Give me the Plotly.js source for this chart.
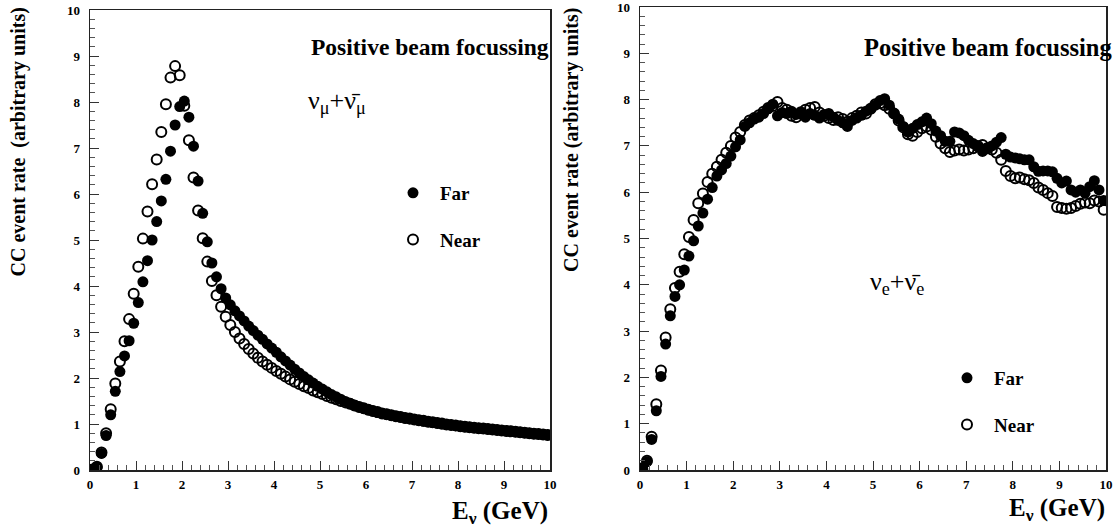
<!DOCTYPE html>
<html>
<head>
<meta charset="utf-8">
<script src="https://cdn.plot.ly/plotly-3.0.1.min.js"></script>
<style>html,body{margin:0;padding:0;background:#fff;}#chart{width:1118px;height:527px;}</style>
</head>
<body>
<div id="chart"></div>
<script>
// Bin centres (GeV)
const energy = [0.05,0.15,0.25,0.35,0.45,0.55,0.65,0.75,0.85,0.95,
1.05,1.15,1.25,1.35,1.45,1.55,1.65,1.75,1.85,1.95,
2.05,2.15,2.25,2.35,2.45,2.55,2.65,2.75,2.85,2.95,
3.05,3.15,3.25,3.35,3.45,3.55,3.65,3.75,3.85,3.95,
4.05,4.15,4.25,4.35,4.45,4.55,4.65,4.75,4.85,4.95,
5.05,5.15,5.25,5.35,5.45,5.55,5.65,5.75,5.85,5.95,
6.05,6.15,6.25,6.35,6.45,6.55,6.65,6.75,6.85,6.95,
7.05,7.15,7.25,7.35,7.45,7.55,7.65,7.75,7.85,7.95,
8.05,8.15,8.25,8.35,8.45,8.55,8.65,8.75,8.85,8.95,
9.05,9.15,9.25,9.35,9.45,9.55,9.65,9.75,9.85,9.95];

// nu_mu + nu_mu-bar, Far detector
const numuFar = [0.01,0.06,0.36,0.75,1.20,1.71,2.14,2.48,2.81,3.19,
3.64,4.09,4.55,5.00,5.40,5.85,6.32,6.93,7.50,7.90,
8.02,7.67,7.04,6.28,5.58,4.96,4.50,4.20,3.94,3.74,
3.59,3.46,3.35,3.24,3.13,3.03,2.93,2.84,2.74,2.65,
2.56,2.46,2.37,2.28,2.19,2.11,2.03,1.96,1.89,1.82,
1.76,1.70,1.64,1.59,1.54,1.49,1.45,1.41,1.37,1.34,
1.31,1.28,1.25,1.23,1.21,1.19,1.17,1.15,1.13,1.11,
1.10,1.08,1.06,1.05,1.03,1.02,1.00,0.99,0.98,0.96,
0.95,0.94,0.93,0.92,0.91,0.90,0.89,0.88,0.87,0.86,
0.85,0.84,0.83,0.82,0.81,0.80,0.79,0.78,0.77,0.76];

// nu_mu + nu_mu-bar, Near detector
const numuNear = [0.01,0.07,0.38,0.80,1.32,1.88,2.36,2.80,3.28,3.83,
4.42,5.03,5.62,6.21,6.75,7.35,7.95,8.53,8.78,8.58,
7.92,7.17,6.36,5.64,5.04,4.53,4.11,3.80,3.55,3.33,
3.15,3.00,2.86,2.74,2.63,2.53,2.44,2.36,2.29,2.22,
2.15,2.09,2.03,1.97,1.92,1.87,1.82,1.78,1.73,1.69,
1.65,1.61,1.57,1.54,1.50,1.47,1.44,1.40,1.37,1.34,
1.31,1.28,1.26,1.23,1.21,1.19,1.17,1.15,1.13,1.12,
1.10,1.08,1.07,1.05,1.04,1.02,1.01,0.99,0.98,0.97,
0.95,0.94,0.93,0.92,0.91,0.90,0.89,0.88,0.87,0.86,
0.85,0.84,0.83,0.82,0.81,0.80,0.79,0.78,0.77,0.76];

// nu_e + nu_e-bar, Far detector
const nueFar = [0.05,0.18,0.66,1.28,2.02,2.72,3.33,3.75,4.00,4.32,
4.62,4.95,5.27,5.55,5.85,6.10,6.35,6.48,6.62,6.78,
6.98,7.13,7.42,7.50,7.58,7.62,7.70,7.80,7.90,7.65,
7.72,7.70,7.75,7.68,7.74,7.62,7.70,7.66,7.60,7.68,
7.70,7.62,7.55,7.50,7.42,7.55,7.60,7.66,7.75,7.80,
7.88,7.98,8.02,7.88,7.70,7.58,7.42,7.30,7.38,7.46,
7.52,7.60,7.48,7.32,7.22,7.10,7.10,7.30,7.28,7.22,
7.12,7.05,6.98,6.88,6.95,7.00,7.08,7.18,6.82,6.76,
6.74,6.72,6.70,6.70,6.55,6.45,6.46,6.46,6.44,6.30,
6.20,6.24,6.05,6.00,6.05,5.98,6.12,6.25,6.05,5.82];

// nu_e + nu_e-bar, Near detector
const nueNear = [0.02,0.20,0.72,1.42,2.15,2.86,3.47,3.93,4.28,4.66,
5.03,5.40,5.76,5.97,6.22,6.40,6.55,6.70,6.85,7.00,
7.18,7.30,7.45,7.55,7.60,7.66,7.74,7.82,7.86,7.95,
7.82,7.78,7.65,7.62,7.70,7.78,7.82,7.84,7.72,7.65,
7.60,7.56,7.62,7.58,7.52,7.60,7.65,7.72,7.70,7.80,
7.90,7.92,7.88,7.80,7.70,7.55,7.40,7.25,7.22,7.30,
7.38,7.42,7.35,7.20,7.05,6.95,6.87,6.90,6.92,6.90,
6.92,6.95,7.00,7.02,6.95,6.92,6.85,6.70,6.46,6.35,
6.30,6.32,6.28,6.26,6.20,6.10,6.05,5.98,5.92,5.68,
5.66,5.64,5.66,5.70,5.75,5.78,5.76,5.82,5.80,5.62];

const seriesNames = ["Far", "Near"];
const xTitle = "E<sub>ν</sub> (GeV)";
const yTitleLeft = "CC event rate \u00a0(arbitrary units)";
const yTitleRight = "CC event rate (arbitrary units)";
const panelTitle = "Positive beam focussing";
const labelLeft = "ν<sub>μ</sub>+ν\u0304<sub>μ</sub>";
const labelRight = "ν<sub>e</sub>+ν\u0304<sub>e</sub>";

const SERIF = "Liberation Serif, Times New Roman, serif";
const W = 1118, H = 527;
const px = v => v / W;
const py = v => 1 - v / H;

function nearTrace(y, xa, ya, leg) {
  return {x: energy, y: y, xaxis: xa, yaxis: ya, type: 'scatter', mode: 'markers',
    name: seriesNames[1], legend: leg, legendgroup: leg + 'near', legendrank: 2,
    marker: {symbol: 'circle-open', size: 10, color: '#000', line: {width: 2, color: '#000'}},
    hoverinfo: 'x+y'};
}
function farTrace(y, xa, ya, leg) {
  return {x: energy, y: y, xaxis: xa, yaxis: ya, type: 'scatter', mode: 'markers',
    name: seriesNames[0], legend: leg, legendgroup: leg + 'far', legendrank: 1,
    marker: {symbol: 'circle', size: 11, color: '#000'},
    hoverinfo: 'x+y'};
}

const data = [
  nearTrace(numuNear, 'x', 'y', 'legend'),
  farTrace(numuFar, 'x', 'y', 'legend'),
  nearTrace(nueNear, 'x2', 'y2', 'legend2'),
  farTrace(nueFar, 'x2', 'y2', 'legend2')
];

const tickFont = {family: SERIF, size: 13, color: '#000', weight: 'bold'};
function xAxis(domain, anchor) {
  return {domain: domain, anchor: anchor, range: [0, 10.0001], tickmode: 'linear', tick0: 0, dtick: 1,
    ticks: 'inside', ticklen: 9, tickwidth: 1, tickcolor: '#333',
    minor: {dtick: 0.2, ticks: 'inside', ticklen: 5, tickwidth: 1, tickcolor: '#555', showgrid: false},
    showline: true, mirror: true, linecolor: '#222', linewidth: 1.5, ticklabeloverflow: 'allow',
    showgrid: false, zeroline: false, tickfont: tickFont, ticklabelstandoff: 2, fixedrange: true};
}
function yAxis(domain, anchor) {
  return {domain: domain, anchor: anchor, range: [0, 10.0001], tickmode: 'linear', tick0: 0, dtick: 1,
    ticks: 'inside', ticklen: 9, tickwidth: 1, tickcolor: '#333',
    minor: {dtick: 0.2, ticks: 'inside', ticklen: 5, tickwidth: 1, tickcolor: '#555', showgrid: false},
    showline: true, mirror: true, linecolor: '#222', linewidth: 1.5, ticklabeloverflow: 'allow',
    showgrid: false, zeroline: false, tickfont: tickFont, ticklabelstandoff: 6, fixedrange: true};
}

const legendFont = {family: SERIF, size: 19, color: '#000', weight: 'bold'};
const layout = {
  width: W, height: H,
  margin: {l: 0, r: 0, t: 0, b: 0},
  paper_bgcolor: '#fff', plot_bgcolor: '#fff',
  showlegend: true,
  xaxis: xAxis([px(90), px(550)], 'y'),
  yaxis: yAxis([py(470), py(10)], 'x'),
  xaxis2: xAxis([px(640), px(1106)], 'y2'),
  yaxis2: yAxis([py(470), py(7)], 'x2'),
  legend: {x: px(386), y: py(174), xanchor: 'left', yanchor: 'top', bgcolor: 'rgba(0,0,0,0)',
    font: legendFont, traceorder: 'grouped', tracegroupgap: 19, itemwidth: 44},
  legend2: {x: px(940), y: py(359), xanchor: 'left', yanchor: 'top', bgcolor: 'rgba(0,0,0,0)',
    font: legendFont, traceorder: 'grouped', tracegroupgap: 19, itemwidth: 44},
  annotations: [
    {text: panelTitle, xref: 'paper', yref: 'paper', x: px(551), y: py(47), xanchor: 'right', yanchor: 'middle',
     showarrow: false, font: {family: SERIF, size: 23.5, color: '#000', weight: 'bold'}},
    {text: panelTitle, xref: 'paper', yref: 'paper', x: px(1114), y: py(47), xanchor: 'right', yanchor: 'middle',
     showarrow: false, font: {family: SERIF, size: 24.5, color: '#000', weight: 'bold'}},
    {text: labelLeft, xref: 'paper', yref: 'paper', x: px(306), y: py(102), xanchor: 'left', yanchor: 'middle',
     showarrow: false, font: {family: SERIF, size: 26, color: '#000'}},
    {text: labelRight, xref: 'paper', yref: 'paper', x: px(868), y: py(283), xanchor: 'left', yanchor: 'middle',
     showarrow: false, font: {family: SERIF, size: 26, color: '#000'}},
    {text: xTitle, xref: 'paper', yref: 'paper', x: px(550), y: py(512), xanchor: 'right', yanchor: 'middle',
     showarrow: false, font: {family: SERIF, size: 25, color: '#000', weight: 'bold'}},
    {text: xTitle, xref: 'paper', yref: 'paper', x: px(1107), y: py(509), xanchor: 'right', yanchor: 'middle',
     showarrow: false, font: {family: SERIF, size: 25, color: '#000', weight: 'bold'}},
    {text: yTitleLeft, xref: 'paper', yref: 'paper', x: px(18), y: py(6), xanchor: 'center', yanchor: 'top',
     textangle: -90, showarrow: false, font: {family: SERIF, size: 20, color: '#000', weight: 'bold'}},
    {text: yTitleRight, xref: 'paper', yref: 'paper', x: px(572), y: py(6), xanchor: 'center', yanchor: 'top',
     textangle: -90, showarrow: false, font: {family: SERIF, size: 20, color: '#000', weight: 'bold'}}
  ]
};

Plotly.newPlot('chart', data, layout, {displayModeBar: false, staticPlot: true});
</script>
</body>
</html>
